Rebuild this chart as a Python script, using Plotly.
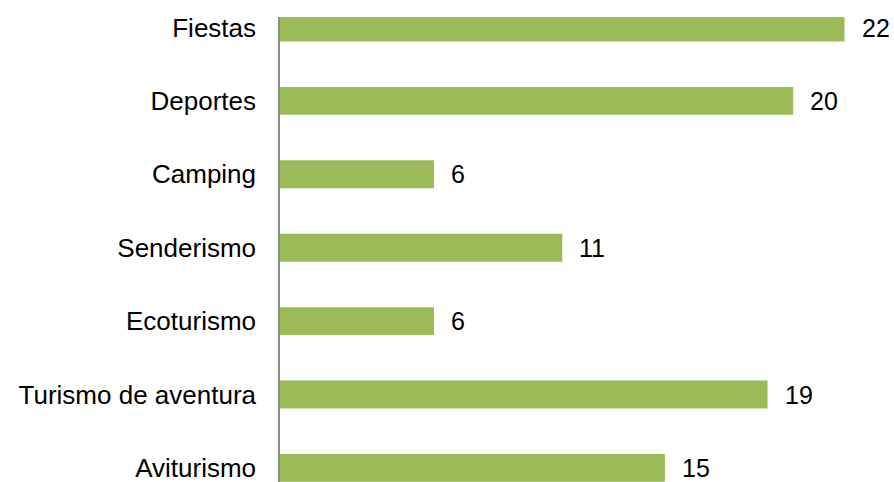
import plotly.graph_objects as go

categories = ["Fiestas", "Deportes", "Camping", "Senderismo", "Ecoturismo",
              "Turismo de aventura", "Aviturismo"]
values = [22, 20, 6, 11, 6, 19, 15]

BAR_COLOR = "#9BBB59"
FONT = dict(family="Liberation Sans, Arial, sans-serif", size=26, color="#000000")
VFONT = dict(family="Liberation Sans, Arial, sans-serif", size=25, color="#000000")

W, H = 894, 482

fig = go.Figure()
fig.add_trace(go.Bar(
    x=values,
    y=categories,
    orientation="h",
    marker=dict(color=BAR_COLOR, line=dict(width=0)),
    width=0.38,
    hoverinfo="skip",
))

annotations = [
    dict(x=v, y=c, xref="x", yref="y", text=str(v), showarrow=False,
         xanchor="left", yanchor="middle", xshift=15, font=VFONT)
    for c, v in zip(categories, values)
]

spacing = 73.4
center0 = 27.5
plot_top = 17
left = 280
fig.update_layout(
    width=W, height=H,
    margin=dict(l=left, r=0, t=plot_top, b=0, pad=0),
    paper_bgcolor="white", plot_bgcolor="white",
    showlegend=False,
    annotations=annotations,
    font=FONT,
    xaxis=dict(range=[0, (W - left) / 25.66], visible=False, showgrid=False, zeroline=False),
    yaxis=dict(
        type="category",
        categoryorder="array", categoryarray=categories,
        range=[(H - center0) / spacing, (plot_top - center0) / spacing],
        showline=True, linecolor="#8c8c8c", linewidth=1.5,
        showgrid=False, zeroline=False,
        ticks="", ticklabelstandoff=17,
        tickfont=FONT,
    ),
)

fig.write_html(
    "out.html",
    config={"displayModeBar": False},
    post_script="document.body.style.margin='0';document.body.style.overflow='hidden';",
)
